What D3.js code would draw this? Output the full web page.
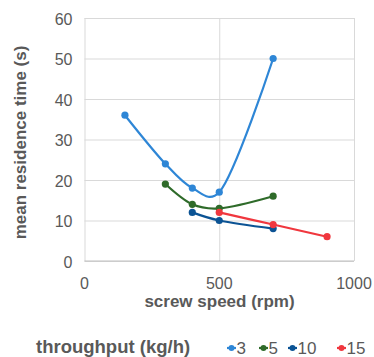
<!DOCTYPE html>
<html>
<head>
<meta charset="utf-8">
<script src="https://cdn.jsdelivr.net/npm/d3@7"></script>
<style>
  body { margin: 0; background: #fff; }
  text { font-family: "Liberation Sans", Arial, sans-serif; }
</style>
</head>
<body>
<script>
// residence time vs screw speed, one line per throughput

const throughputs = ["3", "5", "10", "15"];
const colors = ["#2e86d6", "#2f6b2a", "#0b5394", "#f0373e"];

const speeds3 = [150, 300, 400, 500, 700];
const times3 = [36, 24, 18, 17, 50];
const speeds5 = [300, 400, 500, 700];
const times5 = [19, 14, 13, 16];
const speeds10 = [400, 500, 700];
const times10 = [12, 10, 8];
const speeds15 = [500, 700, 900];
const times15 = [12, 9, 6];

const xTicks = [0, 500, 1000];
const yTicks = [0, 10, 20, 30, 40, 50, 60];

const series = [
	{ name: throughputs[0], xs: speeds3, ys: times3 },
	{ name: throughputs[1], xs: speeds5, ys: times5 },
	{ name: throughputs[2], xs: speeds10, ys: times10 },
	{ name: throughputs[3], xs: speeds15, ys: times15 }
];

const width = 374, height = 357;
const plotL = 84.5, plotR = 354, plotT = 18, plotB = 261;

const svg = d3.select("body").append("svg")
	.attr("width", width)
	.attr("height", height);

const x = d3.scaleLinear().domain([0, 1000]).range([plotL, plotR]);
const y = d3.scaleLinear().domain([0, 60]).range([plotB, plotT]);

// gridlines
svg.append("g")
	.attr("transform", `translate(${plotL},0)`)
	.call(d3.axisLeft(y).tickValues(yTicks).tickSize(-(plotR - plotL)).tickFormat(""))
	.call(g => g.select(".domain").remove())
	.call(g => g.selectAll("line").attr("stroke", "#d9d9d9"));

svg.append("g")
	.attr("transform", `translate(0,${plotB})`)
	.call(d3.axisBottom(x).tickValues(xTicks).tickSize(-(plotB - plotT)).tickFormat(""))
	.call(g => g.select(".domain").remove())
	.call(g => g.selectAll("line").attr("stroke", "#d9d9d9"));

// bottom axis line
svg.append("line")
	.attr("x1", plotL).attr("x2", plotR)
	.attr("y1", plotB).attr("y2", plotB)
	.attr("stroke", "#bfbfbf");

// tick labels
svg.selectAll(".ylab")
		.data(yTicks)
		.enter()
	.append("text")
		.attr("class", "ylab")
		.attr("x", plotL - 12)
		.attr("y", d => y(d) + 6.5)
		.attr("text-anchor", "end")
		.attr("font-size", 16)
		.attr("fill", "#595959")
		.text(d => d);

svg.selectAll(".xlab")
		.data(xTicks)
		.enter()
	.append("text")
		.attr("class", "xlab")
		.attr("x", d => x(d))
		.attr("y", 289)
		.attr("text-anchor", "middle")
		.attr("font-size", 16)
		.attr("fill", "#595959")
		.text(d => d);

// axis titles
svg.append("text")
	.attr("x", 219.5)
	.attr("y", 307)
	.attr("text-anchor", "middle")
	.attr("font-size", 17)
	.attr("font-weight", "bold")
	.attr("fill", "#595959")
	.text("screw speed (rpm)");

svg.append("text")
	.attr("transform", `translate(26,142.5) rotate(-90)`)
	.attr("text-anchor", "middle")
	.attr("font-size", 17)
	.attr("font-weight", "bold")
	.attr("fill", "#595959")
	.text("mean residence time (s)");

// lines
const line = d3.line()
	.x(d => x(d[0]))
	.y(d => y(d[1]))
	.curve(d3.curveCatmullRom.alpha(0.25));

series.forEach((s, i) => {
	const pts = s.xs.map((v, j) => [v, s.ys[j]]);
	svg.append("path")
		.datum(pts)
		.attr("d", line)
		.attr("fill", "none")
		.attr("stroke", colors[i])
		.attr("stroke-width", 2.2);
	svg.selectAll(".pt" + i)
			.data(pts)
			.enter()
		.append("circle")
			.attr("cx", d => x(d[0]))
			.attr("cy", d => y(d[1]))
			.attr("r", 3.6)
			.attr("fill", colors[i]);
});

// legend
svg.append("text")
	.attr("x", 36)
	.attr("y", 353)
	.attr("font-size", 18.5)
	.attr("font-weight", "bold")
	.attr("fill", "#595959")
	.text("throughput (kg/h)");

const legendX = [227, 259, 288, 337];
throughputs.forEach((t, i) => {
	const g = svg.append("g").attr("transform", `translate(${legendX[i]},348)`);
	g.append("line").attr("x1", 0).attr("x2", 9).attr("stroke", colors[i]).attr("stroke-width", 2.2);
	g.append("circle").attr("cx", 4.5).attr("r", 3).attr("fill", colors[i]);
	g.append("text")
		.attr("x", 9.5)
		.attr("y", 6)
		.attr("font-size", 17)
		.attr("fill", "#595959")
		.text(t);
});
</script>
</body>
</html>
